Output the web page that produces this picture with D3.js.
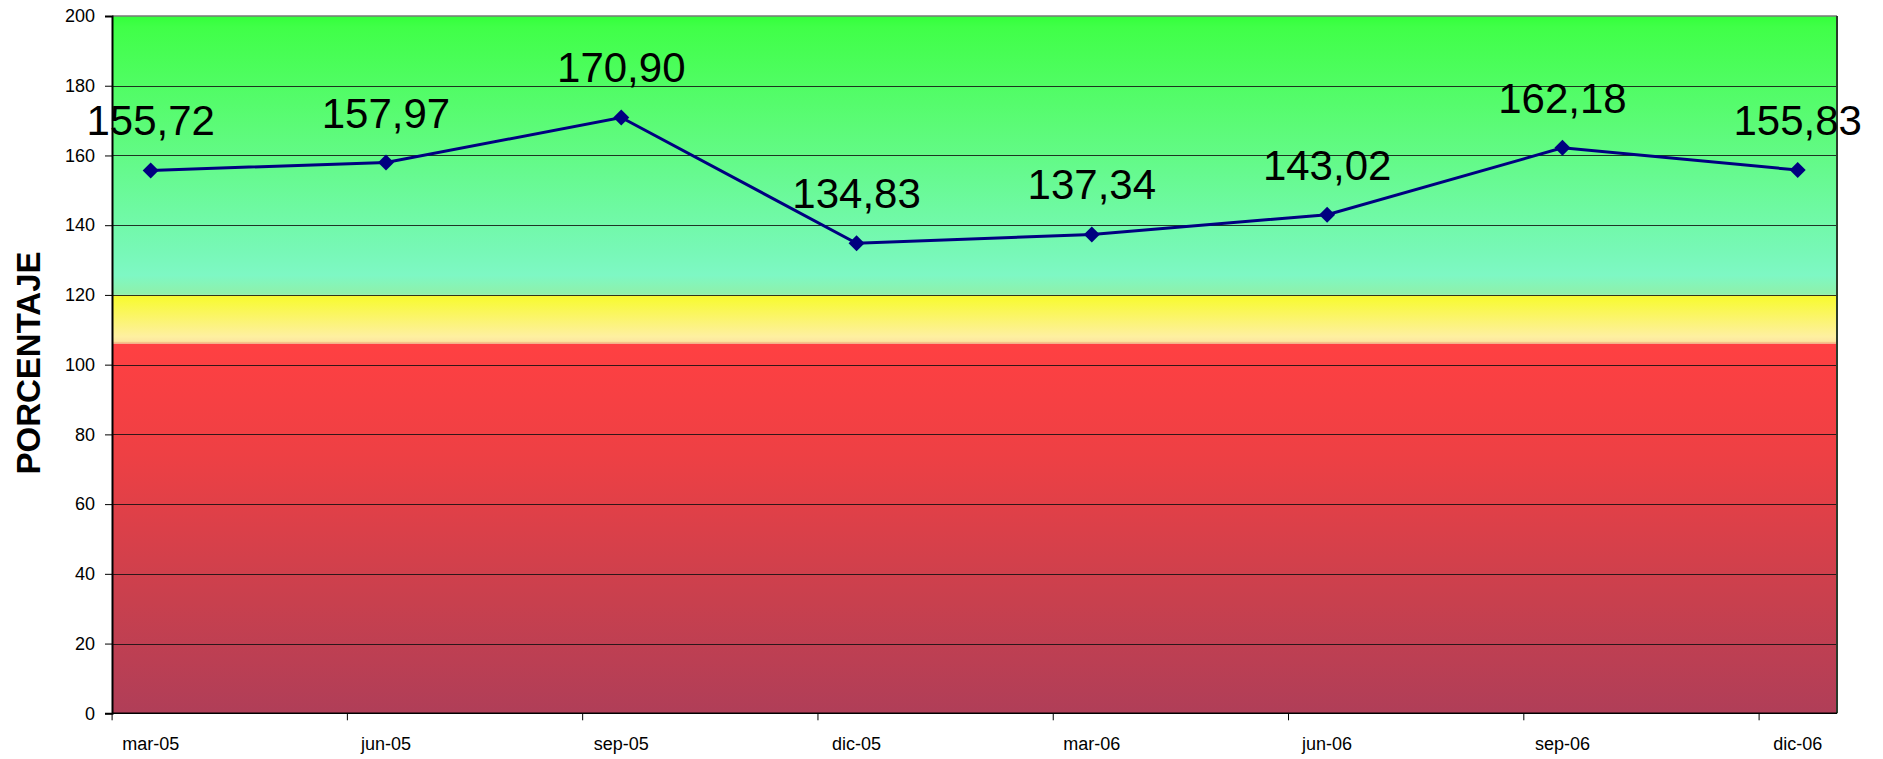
<!DOCTYPE html>
<html>
<head>
<meta charset="utf-8">
<script src="https://cdn.jsdelivr.net/npm/d3@7"></script>
<style>
  body { margin: 0; background: #fff; }
  svg { display: block; font-family: "Liberation Sans", Arial, sans-serif; }
</style>
</head>
<body>
<div id="chart"></div>
<script>
// periods and values (percent)
const periods = ["mar-05", "jun-05", "sep-05", "dic-05", "mar-06", "jun-06", "sep-06", "dic-06"];
const values = [155.72, 157.97, 170.90, 134.83, 137.34, 143.02, 162.18, 155.83];
const yTicks = [0, 20, 40, 60, 80, 100, 120, 140, 160, 180, 200];
// background zones: [from, to]
const zones = [
  { name: "red", from: 0, to: 106 },
  { name: "yellow", from: 106, to: 120 },
  { name: "green", from: 120, to: 200 }
];

const width = 1883, height = 759;
const margin = { top: 16, right: 46, bottom: 46, left: 112 };

const svg = d3.select("#chart").append("svg")
  .attr("width", width)
  .attr("height", height);

const yScale = d3.scaleLinear()
  .domain([0, 200])
  .range([height - margin.bottom + 0.3, margin.top]);

// points sit at 150.7 .. 1797.7, plot box goes 112 .. 1837
const xScale = d3.scalePoint()
  .domain(periods)
  .range([150.7, 1797.7]);
const tickShift = -38.6;

const defs = svg.append("defs");
function grad(id, stops) {
  const g = defs.append("linearGradient").attr("id", id)
    .attr("x1", 0).attr("y1", 0).attr("x2", 0).attr("y2", 1);
  stops.forEach(s => g.append("stop").attr("offset", s[0]).attr("stop-color", s[1]));
}
grad("g-green", [[0, "#33ff3a"], [0.04, "#40ff48"], [0.4, "#5cfb78"], [0.85, "#78f8b8"], [0.93, "#7ef8c4"], [1, "#90f0a8"]]);
grad("g-yellow", [[0, "#f4f830"], [0.1, "#f8fa38"], [0.85, "#fef0a0"], [0.95, "#fce6a0"], [1, "#f0a070"]]);
grad("g-red", [[0, "#ff4042"], [0.3, "#ee4044"], [0.7, "#c8404e"], [1, "#b03e58"]]);

const plotL = margin.left, plotR = width - margin.right;

svg.append("g").selectAll("rect")
  .data(zones)
  .join("rect")
  .attr("x", plotL)
  .attr("width", plotR - plotL)
  .attr("y", d => yScale(d.to))
  .attr("height", d => yScale(d.from) - yScale(d.to))
  .attr("fill", d => `url(#g-${d.name})`);

// gridlines
svg.append("g").selectAll("line")
  .data(yTicks.filter(t => t > 0 && t < 200))
  .join("line")
  .attr("x1", plotL).attr("x2", plotR)
  .attr("y1", d => Math.round(yScale(d)) + 0.5)
  .attr("y2", d => Math.round(yScale(d)) + 0.5)
  .attr("stroke", "#111")
  .attr("stroke-opacity", 0.85)
  .attr("stroke-width", 1);

// frame: top and right
svg.append("line")
  .attr("x1", plotL).attr("x2", plotR)
  .attr("y1", yScale(200)).attr("y2", yScale(200))
  .attr("stroke", "#777").attr("stroke-width", 1.5);
svg.append("line")
  .attr("x1", plotR).attr("x2", plotR)
  .attr("y1", yScale(200)).attr("y2", yScale(0))
  .attr("stroke", "#2a3a2a").attr("stroke-width", 2);

// y axis
const yAxis = svg.append("g")
  .attr("transform", `translate(${plotL}, 0)`)
  .call(d3.axisLeft(yScale).tickValues(yTicks).tickSize(7).tickPadding(10));
yAxis.select(".domain").attr("stroke", "#000").attr("stroke-width", 2);
yAxis.selectAll(".tick line").attr("stroke", "#000");
yAxis.selectAll("text").attr("font-size", 18).attr("fill", "#000");

// x axis
const xAxisY = yScale(0);
const xg = svg.append("g");
xg.append("line")
  .attr("x1", plotL).attr("x2", plotR)
  .attr("y1", xAxisY).attr("y2", xAxisY)
  .attr("stroke", "#000").attr("stroke-width", 1.5);
xg.selectAll("line.tk")
  .data(periods)
  .join("line")
  .attr("class", "tk")
  .attr("x1", d => xScale(d) + tickShift)
  .attr("x2", d => xScale(d) + tickShift)
  .attr("y1", xAxisY).attr("y2", xAxisY + 7)
  .attr("stroke", "#000");
xg.selectAll("text")
  .data(periods)
  .join("text")
  .attr("x", d => xScale(d))
  .attr("y", 750)
  .attr("text-anchor", "middle")
  .attr("font-size", 18)
  .text(d => d);

// y title
svg.append("text")
  .attr("transform", `translate(40, 363) rotate(-90)`)
  .attr("text-anchor", "middle")
  .attr("font-size", 33)
  .attr("font-weight", "bold")
  .text("PORCENTAJE");

// line and markers
const line = d3.line()
  .x((d, i) => xScale(periods[i]))
  .y(d => yScale(d));

svg.append("path")
  .datum(values)
  .attr("d", line)
  .attr("fill", "none")
  .attr("stroke", "#000080")
  .attr("stroke-width", 3);

svg.append("g").selectAll("path")
  .data(values)
  .join("path")
  .attr("transform", (d, i) => `translate(${xScale(periods[i])}, ${yScale(d)})`)
  .attr("d", "M0,-8 L8,0 L0,8 L-8,0 Z")
  .attr("fill", "#000080");

// value labels
svg.append("g").selectAll("text")
  .data(values)
  .join("text")
  .attr("x", (d, i) => xScale(periods[i]))
  .attr("y", d => yScale(d) - 35)
  .attr("text-anchor", "middle")
  .attr("font-size", 42)
  .attr("fill", "#000")
  .text(d => d3.format(".2f")(d).replace(".", ","));
</script>
</body>
</html>
